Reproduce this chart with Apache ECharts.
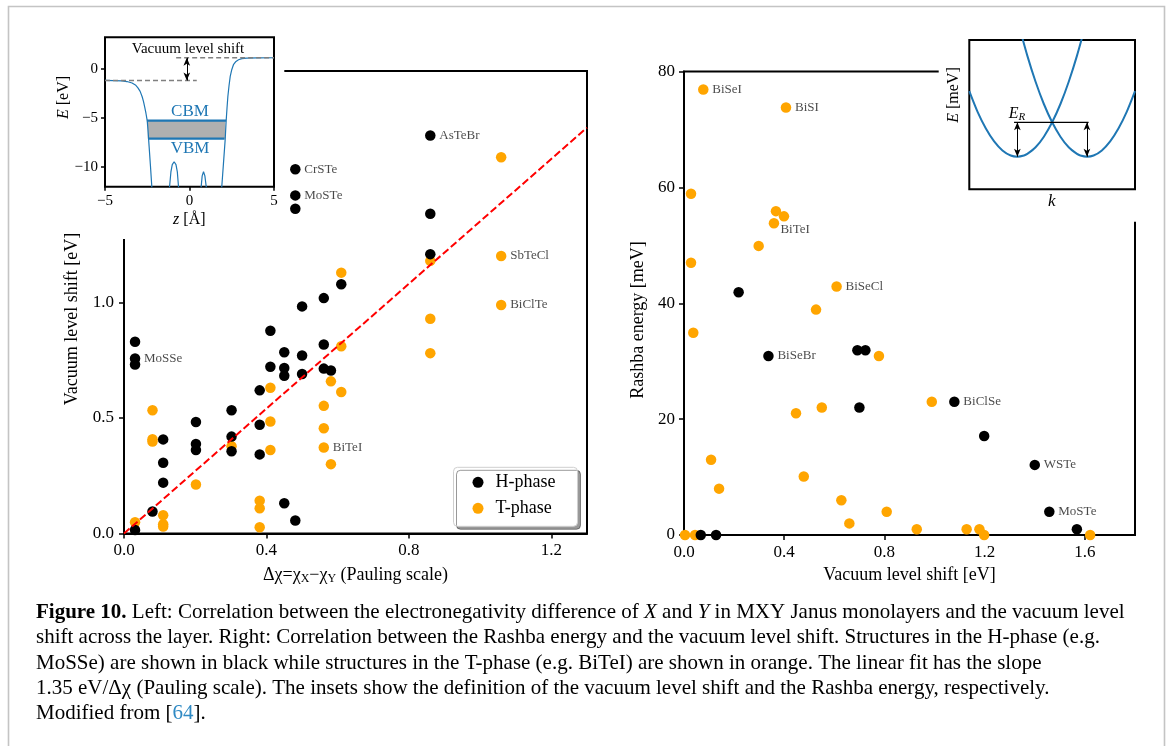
<!DOCTYPE html>
<html><head><meta charset="utf-8">
<script src="https://cdn.jsdelivr.net/npm/echarts@6/dist/echarts.min.js"></script>
<style>html,body{margin:0;padding:0;background:#fff}#c{width:1171px;height:746px}</style>
</head><body><div id="c"></div><script>
// ---------- DATA ----------
// Left panel: electronegativity difference (Pauling) vs vacuum level shift (eV)
const leftHPhase = [[0.860,1.721],[0.481,1.575],[0.481,1.462],[0.481,1.404],[0.860,1.383],[0.860,1.208],[0.610,1.078],[0.561,1.018],[0.500,0.982],[0.411,0.877],[0.031,0.829],[0.031,0.757],[0.031,0.731],[0.561,0.817],[0.450,0.784],[0.500,0.770],[0.411,0.721],[0.450,0.716],[0.450,0.682],[0.500,0.690],[0.561,0.713],[0.581,0.705],[0.381,0.619],[0.381,0.470],[0.381,0.342],[0.302,0.533],[0.302,0.419],[0.302,0.356],[0.202,0.482],[0.202,0.387],[0.202,0.361],[0.110,0.407],[0.110,0.306],[0.110,0.220],[0.080,0.095],[0.031,0.015],[0.450,0.131],[0.481,0.056]];
const leftTPhase = [[1.059,1.627],[0.860,1.179],[1.059,1.200],[0.610,1.128],[1.059,0.988],[0.860,0.929],[0.860,0.780],[0.610,0.810],[0.581,0.658],[0.610,0.612],[0.411,0.630],[0.561,0.552],[0.561,0.455],[0.561,0.372],[0.581,0.300],[0.411,0.484],[0.411,0.361],[0.302,0.377],[0.202,0.212],[0.080,0.533],[0.080,0.408],[0.080,0.398],[0.110,0.079],[0.110,0.040],[0.110,0.030],[0.031,0.049],[0.381,0.142],[0.381,0.109],[0.381,0.027]];
const leftLabels = [[0.860,1.721,'AsTeBr'],[0.481,1.575,'CrSTe'],[0.481,1.462,'MoSTe'],[1.059,1.200,'SbTeCl'],[1.059,0.988,'BiClTe'],[0.031,0.757,'MoSSe'],[0.561,0.372,'BiTeI']];
const fitLine = [[0,0],[1.3,1.755]]; // slope 1.35 eV per Pauling unit
const leftXTicks = [0,0.4,0.8,1.2];
const leftYTicks = [0,0.5,1.0];

// Right panel: vacuum level shift (eV) vs Rashba energy (meV)
const rightHPhase = [[0.218,41.9],[0.337,30.9],[0.692,31.9],[0.724,31.9],[0.700,22.0],[1.079,23.0],[1.198,17.1],[1.400,12.1],[1.458,4.0],[1.568,1.0],[0.067,0],[0.128,0]];
const rightTPhase = [[0.077,76.9],[0.407,73.8],[0.028,58.9],[0.367,55.9],[0.399,55.0],[0.359,53.8],[0.298,49.9],[0.028,47.0],[0.609,42.9],[0.527,38.9],[0.037,34.9],[0.778,30.9],[0.989,23.0],[0.447,21.0],[0.550,22.0],[0.108,13.0],[0.140,8.0],[0.478,10.1],[0.628,6.0],[0.809,4.0],[0.660,2.0],[0.929,1.0],[1.128,1.0],[1.179,1.0],[1.198,0],[1.621,0],[0.004,0],[0.044,0]];
const rightLabels = [[0.077,76.9,'BiSeI'],[0.407,73.8,'BiSI'],[0.359,53.8,'BiTeI'],[0.609,42.9,'BiSeCl'],[0.337,30.9,'BiSeBr'],[1.079,23.0,'BiClSe'],[1.400,12.1,'WSTe'],[1.458,4.0,'MoSTe']];
const rightXTicks = [0,0.4,0.8,1.2,1.6];
const rightYTicks = [0,20,40,60,80];

// Left inset: potential profile E(z)
const potentialCurve = [[-5,-1.19],[-4.5,-1.2],[-4,-1.24],[-3.7,-1.3],[-3.4,-1.45],[-3.2,-1.65],[-3.05,-1.95],[-2.92,-2.3],[-2.8,-2.85],[-2.72,-3.35],[-2.65,-3.9],[-2.58,-4.5],[-2.5,-5.3],[-2.45,-6.4],[-2.39,-7.9],[-2.31,-9.9],[-2.23,-12],[-2.18,-13.5],[-1.25,-13.5],[-1.18,-12],[-1.1,-10.5],[-1.02,-9.75],[-0.91,-9.46],[-0.8,-9.75],[-0.72,-10.5],[-0.65,-12],[-0.58,-13.5],[0.62,-13.5],[0.69,-12],[0.75,-10.9],[0.83,-10.48],[0.91,-10.9],[0.99,-12],[1.06,-13.5],[1.86,-13.5],[1.91,-12],[2.01,-9.63],[2.11,-7.24],[2.17,-5.27],[2.22,-4.0],[2.27,-2.82],[2.34,-1.7],[2.41,-0.78],[2.5,-0.1],[2.6,0.41],[2.75,0.75],[2.9,0.92],[3.1,1.03],[3.39,1.09],[4,1.11],[5,1.12]];
const cbmLine = [[-2.52,-5.27],[2.17,-5.27]];
const vbmLine = [[-2.43,-7.11],[2.07,-7.11]];
const gapBand = [[-2.47,-5.27],[2.12,-7.11]];
const vacuumLeft = [[-5,-1.2],[0.43,-1.2]];
const vacuumRight = [[-0.79,1.12],[5,1.12]];
const vacuumArrow = [[-0.16,-1.2],[-0.16,1.12]];
const insetXTicks = [-5,0,5];
const insetYTicks = [-10,-5,0];

// Right inset: Rashba-split bands
const bandLeft = [[-1,0.656],[-0.9,0.449],[-0.8,0.282],[-0.7,0.153],[-0.6,0.063],[-0.5,0.012],[-0.42,0],[-0.34,0.012],[-0.3,0.028],[-0.2,0.094],[-0.1,0.200],[0,0.344],[0.1,0.527],[0.2,0.750],[0.3,1.011],[0.4,1.311]];
const bandRight = [[-0.4,1.311],[-0.3,1.011],[-0.2,0.750],[-0.1,0.527],[0,0.344],[0.1,0.200],[0.2,0.094],[0.3,0.028],[0.34,0.012],[0.42,0],[0.5,0.012],[0.6,0.063],[0.7,0.153],[0.8,0.282],[0.9,0.449],[1,0.656]];
const rashbaLevel = [[-0.46,0.344],[0.44,0.344]];
const rashbaArrows = [[[-0.42,0],[-0.42,0.344]],[[0.42,0],[0.42,0.344]]];

const captionLines = [
  [['b','Figure 10.'],['n',' Left: Correlation between the electronegativity difference of '],['i','X'],['n',' and '],['i','Y'],['n',' in MXY Janus monolayers and the vacuum level']],
  [['n','shift across the layer. Right: Correlation between the Rashba energy and the vacuum level shift. Structures in the H-phase (e.g.']],
  [['n','MoSSe) are shown in black while structures in the T-phase (e.g. BiTeI) are shown in orange. The linear fit has the slope']],
  [['n','1.35 eV/Δχ (Pauling scale). The insets show the definition of the vacuum level shift and the Rashba energy, respectively.']],
  [['n','Modified from ['],['l','64'],['n',']. ']]
];

// ---------- STYLE / LAYOUT ----------
const FONT = 'Liberation Serif';
const BLACK = '#000000', ORANGE = '#ffa500', BLUE = '#1f77b4';
const chart = echarts.init(document.getElementById('c'), null, {renderer:'canvas'});

function mainAxis(gi, min, max, ticks, fmt, margin){
  return {
    type:'value', gridIndex:gi, min:min, max:max,
    axisLine:{show:true, onZero:false, lineStyle:{color:BLACK, width:2}},
    axisTick:{show:true, length:5, customValues:ticks, lineStyle:{color:BLACK, width:1.5}},
    axisLabel:{show:true, customValues:ticks, formatter:fmt, margin:margin, color:BLACK, fontFamily:FONT, fontSize:17},
    splitLine:{show:false}
  };
}
function insetAxis(gi, min, max, ticks){
  return {
    type:'value', gridIndex:gi, min:min, max:max, z:30,
    axisLine:{show:false, onZero:false},
    axisTick:{show:true, length:4, customValues:ticks, lineStyle:{color:BLACK, width:1.5}},
    axisLabel:{show:true, customValues:ticks, margin:7, color:BLACK, fontFamily:FONT, fontSize:15,
      formatter:v=>String(v).replace('-','\u2212')},
    splitLine:{show:false}
  };
}
function labelSeries(xi, yi, arr, special){
  return {
    type:'scatter', xAxisIndex:xi, yAxisIndex:yi, name:'labels'+xi, z:5, silent:true,
    symbolSize:0, itemStyle:{color:'rgba(0,0,0,0)'},
    data: arr.map(d=>{
      const item = {value:[d[0],d[1]], name:d[2]};
      if (special && special[d[2]]) item.label = special[d[2]];
      return item;
    }),
    label:{show:true, position:'right', distance:9, formatter:p=>p.name,
      color:'#1a1a1a', fontFamily:FONT, fontSize:13}
  };
}
const mk = arr => arr.map(p=>({coord:p}));
const dot = c => ({color:c, opacity:1});

const series = [
  {type:'scatter', name:'T-phase', xAxisIndex:0, yAxisIndex:0, data:leftTPhase, symbolSize:10.5, itemStyle:dot(ORANGE), z:2},
  {type:'scatter', name:'H-phase', xAxisIndex:0, yAxisIndex:0, data:leftHPhase, symbolSize:10.5, itemStyle:dot(BLACK), z:3},
  {type:'line', name:'fit', xAxisIndex:0, yAxisIndex:0, data:fitLine, symbol:'none', z:4,
    lineStyle:{color:'#ff0000', width:2, type:[7.4,3.2]}},
  labelSeries(0,0,leftLabels),
  {type:'scatter', name:'T-phase', xAxisIndex:1, yAxisIndex:1, data:rightTPhase, symbolSize:10.5, itemStyle:dot(ORANGE), z:2},
  {type:'scatter', name:'H-phase', xAxisIndex:1, yAxisIndex:1, data:rightHPhase, symbolSize:10.5, itemStyle:dot(BLACK), z:3},
  labelSeries(1,1,rightLabels,{BiTeI:{position:'right', distance:9, offset:[-2.5,6]}}),
  // left inset
  {type:'line', name:'pot', xAxisIndex:2, yAxisIndex:2, data:potentialCurve, symbol:'none', z:33, silent:true,
    lineStyle:{color:BLUE, width:1.2},
    markArea:{silent:true, z:31, itemStyle:{color:'#b0b0b0', opacity:1}, data:[mk(gapBand)]}},
  {type:'line', name:'cbm', xAxisIndex:2, yAxisIndex:2, data:cbmLine, symbol:'none', z:34, lineStyle:{color:BLUE, width:2.2}},
  {type:'line', name:'vbm', xAxisIndex:2, yAxisIndex:2, data:vbmLine, symbol:'none', z:34, lineStyle:{color:BLUE, width:2.2}},
  {type:'line', name:'vacL', xAxisIndex:2, yAxisIndex:2, data:vacuumLeft, symbol:'none', z:35,
    lineStyle:{color:'#808080', width:1.5, type:[5,3]}},
  {type:'line', name:'vacR', xAxisIndex:2, yAxisIndex:2, data:vacuumRight, symbol:'none', z:35,
    lineStyle:{color:'#808080', width:1.5, type:[5,3]},
    markLine:{silent:true, z:36, symbol:['arrow','arrow'], symbolSize:[5,8], label:{show:false},
      lineStyle:{color:BLACK, width:1, type:'solid'}, data:[mk(vacuumArrow)]}},
  // right inset
  {type:'line', name:'bandL', xAxisIndex:3, yAxisIndex:3, data:bandLeft, symbol:'none', smooth:0.3, z:33,
    lineStyle:{color:BLUE, width:2}},
  {type:'line', name:'bandR', xAxisIndex:3, yAxisIndex:3, data:bandRight, symbol:'none', smooth:0.3, z:33,
    lineStyle:{color:BLUE, width:2}},
  {type:'line', name:'er', xAxisIndex:3, yAxisIndex:3, data:rashbaLevel, symbol:'none', z:34,
    lineStyle:{color:BLACK, width:1.2},
    markLine:{silent:true, z:36, symbol:['arrow','arrow'], symbolSize:[5,8], label:{show:false},
      lineStyle:{color:BLACK, width:1, type:'solid'}, data:rashbaArrows.map(mk)}}
];

// Caption font fitting (line 1 spans ~1089 px in the reference)
const mctx = document.createElement('canvas').getContext('2d');
function fontFor(k, s){
  return (k==='b'?'bold ':'') + (k==='i'?'italic ':'') + s + 'px "' + FONT + '"';
}
function lineWidth(segs, s){ let w=0; for (const [k,t] of segs){ mctx.font = fontFor(k,s); w += mctx.measureText(t).width; } return w; }
const capSize = +(20 * 1088.7 / lineWidth(captionLines[0], 20)).toFixed(2);
const capRich = {
  b:{fontFamily:FONT, fontSize:capSize, fontWeight:'bold', fill:'#000', color:'#000'},
  i:{fontFamily:FONT, fontSize:capSize, fontStyle:'italic', fill:'#000', color:'#000'},
  n:{fontFamily:FONT, fontSize:capSize, fill:'#000', color:'#000'},
  l:{fontFamily:FONT, fontSize:capSize, fill:'#2f8ac4', color:'#2f8ac4'}
};
const capY = [612.5, 637.8, 663.1, 688.4, 713.7];

function txt(x, y, text, opt){
  opt = opt || {};
  return {type:'text', x:x, y:y, rotation:opt.rot||0, z:opt.z||40, silent:true,
    style:Object.assign({text:text, fill:opt.color||'#000', font:(opt.italic?'italic ':'')+(opt.size||18)+'px "'+FONT+'"',
      align:opt.align||'center', verticalAlign:'middle', textAlign:opt.align||'center', textVerticalAlign:'middle'}, opt.rich?{rich:opt.rich}:{})};
}
const rs = (s, extra) => Object.assign({fontFamily:FONT, fontSize:s, fill:'#000', color:'#000'}, extra||{});

const graphics = [
  {type:'rect', z:0, silent:true, shape:{x:8.5, y:6.5, width:1156, height:780}, style:{fill:'none', stroke:'#c4c4c4', lineWidth:1.6}},
  // white covers where insets hide the main frames
  {type:'rect', z:10, silent:true, shape:{x:100, y:50, width:184.3, height:189}, style:{fill:'#fff'}},
  {type:'rect', z:10, silent:true, shape:{x:938.7, y:50, width:210, height:171.7}, style:{fill:'#fff'}},
  // axis titles
  txt(72.7, 319, 'Vacuum level shift [eV]', {rot:Math.PI/2}),
  txt(355.5, 575, '{n|Δχ=χ}{s|X}{n|−χ}{s|Y}{n| (Pauling scale)}', {rich:{n:rs(18), s:rs(12,{padding:[8,0,0,0]})}}),
  txt(638, 320, 'Rashba energy [meV]', {rot:Math.PI/2}),
  txt(909.5, 575, 'Vacuum level shift [eV]'),
  // left inset texts
  txt(188, 49, 'Vacuum level shift', {size:15}),
  txt(190, 111.5, 'CBM', {size:17, color:BLUE}),
  txt(190, 149, 'VBM', {size:17, color:BLUE}),
  txt(63.3, 97.5, '{i|E} [eV]', {rot:Math.PI/2, size:16, rich:{i:rs(16,{fontStyle:'italic'})}}),
  txt(189.3, 220, '{i|z} [Å]', {size:16, rich:{i:rs(16,{fontStyle:'italic'})}}),
  // right inset texts
  txt(953.3, 95, '{i|E} [meV]', {rot:Math.PI/2, size:16, rich:{i:rs(16,{fontStyle:'italic'})}}),
  txt(1051.7, 201.7, 'k', {size:17, italic:true}),
  txt(1017, 114, '{i|E}{s|R}', {size:16, rich:{i:rs(16,{fontStyle:'italic'}), s:rs(11,{fontStyle:'italic', padding:[7,0,0,0]})}})
];
captionLines.forEach((segs, i)=>{
  graphics.push({type:'text', x:36, y:capY[i], z:40, silent:true,
    style:{text:segs.map(([k,t])=>'{'+k+'|'+t+'}').join(''), rich:capRich, font:capSize+'px "'+FONT+'"',
      align:'left', verticalAlign:'middle', textAlign:'left', textVerticalAlign:'middle'}});
});

const option = {
  animation:false,
  backgroundColor:'#ffffff',
  grid:[
    {left:124, top:71, width:463, height:462.5, show:true, borderColor:BLACK, borderWidth:2, backgroundColor:'transparent'},
    {left:684, top:71.5, width:451, height:463.5, show:true, borderColor:BLACK, borderWidth:2, backgroundColor:'transparent'},
    {left:105, top:37.3, width:169, height:149.4, show:true, borderColor:BLACK, borderWidth:2, backgroundColor:'#fff', z:30},
    {left:969.3, top:40, width:165.7, height:149.3, show:true, borderColor:BLACK, borderWidth:2, backgroundColor:'#fff', z:30}
  ],
  xAxis:[
    mainAxis(0, 0, 1.3, leftXTicks, v=>v.toFixed(1), 9),
    mainAxis(1, 0, 1.8, rightXTicks, v=>v.toFixed(1), 9),
    insetAxis(2, -5, 5, insetXTicks),
    {type:'value', gridIndex:3, min:-1, max:1, show:false}
  ],
  yAxis:[
    mainAxis(0, 0, 2.0, leftYTicks, v=>v.toFixed(1), 10),
    mainAxis(1, 0, 80, rightYTicks, v=>String(v), 9),
    insetAxis(2, -12, 3.2, insetYTicks),
    {type:'value', gridIndex:3, min:-0.326, max:1.167, show:false}
  ],
  legend:{
    data:['H-phase','T-phase'], orient:'vertical', left:453.5, top:467.3,
    padding:[5,22,8,19], itemGap:6, itemWidth:11, itemHeight:11, icon:'circle', selectedMode:false,
    backgroundColor:'#fff', borderColor:'#cfcfcf', borderWidth:1, borderRadius:4,
    shadowColor:'rgba(0,0,0,0.4)', shadowBlur:0, shadowOffsetX:3, shadowOffsetY:3,
    textStyle:{fontFamily:FONT, fontSize:18, color:BLACK, lineHeight:20, padding:[0,0,0,7]}
  },
  series:series,
  graphic:{elements:graphics}
};
chart.setOption(option);
</script></body></html>
